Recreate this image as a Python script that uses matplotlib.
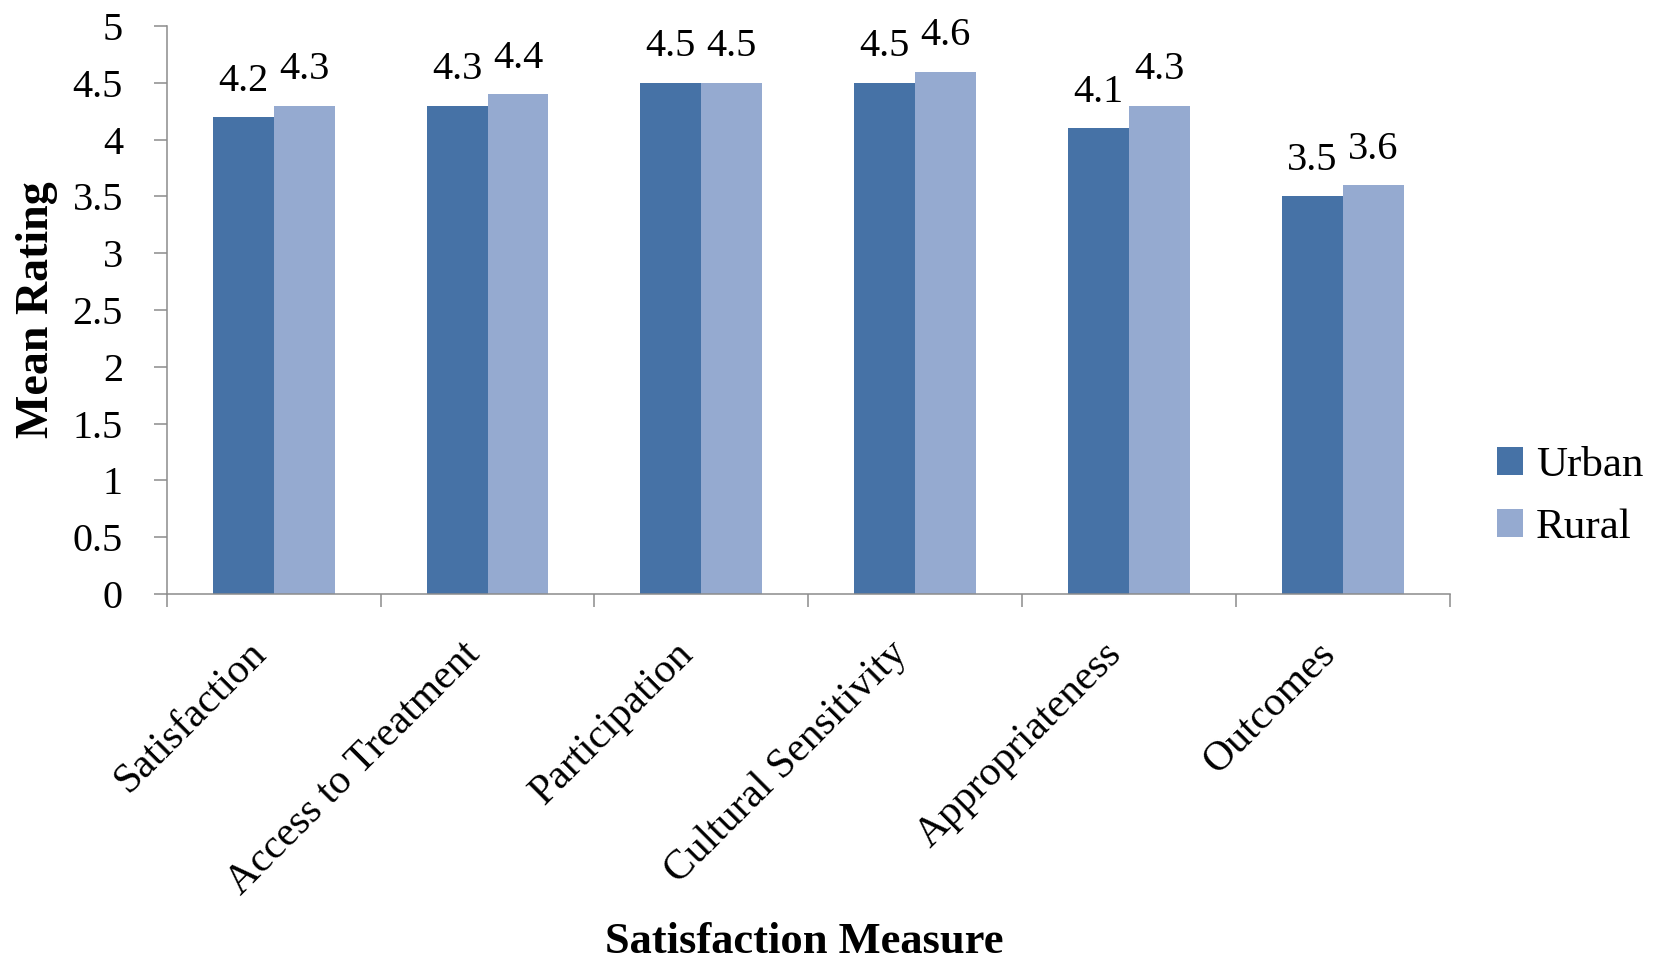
import matplotlib
matplotlib.use("Agg")
import matplotlib.pyplot as plt
import numpy as np

plt.rcParams['font.family'] = ['Liberation Serif', 'DejaVu Serif']

measures = ["Satisfaction", "Access to Treatment", "Participation",
            "Cultural Sensitivity", "Appropriateness", "Outcomes"]
urban = [4.2, 4.3, 4.5, 4.5, 4.1, 3.5]
rural = [4.3, 4.4, 4.5, 4.6, 4.3, 3.6]
yticks = [0, 0.5, 1, 1.5, 2, 2.5, 3, 3.5, 4, 4.5, 5]

urban_color = '#4672A6'
rural_color = '#95AAD0'
axis_grey = '#8C8C8C'

fig = plt.figure(figsize=(16.59, 9.66), dpi=100)
ax = fig.add_axes([0.1005, 0.385, 0.7735, 0.588])

x = np.arange(len(measures))
w = 0.285
b1 = ax.bar(x - w / 2, urban, w, color=urban_color, label='Urban')
b2 = ax.bar(x + w / 2, rural, w, color=rural_color, label='Rural')

# value labels on top of each bar
for bars, vals in ((b1, urban), (b2, rural)):
    for rect, v in zip(bars, vals):
        ax.annotate(f"{v:g}", (rect.get_x() + rect.get_width() / 2, v),
                    xytext=(0, 19), textcoords='offset points',
                    ha='center', va='baseline', fontsize=29)

ax.set_xlim(-0.5, len(measures) - 0.5)
ax.set_ylim(0, 5)
ax.set_yticks(yticks)
ax.set_yticklabels([f"{t:g}" for t in yticks], fontsize=29)

# ticks between the groups, labels under the group centres
ax.set_xticks(np.arange(-0.5, len(measures)), labels=[''] * (len(measures) + 1))
ax.set_xticks(x, minor=True)
ax.set_xticklabels(measures, minor=True, rotation=45, ha='right', va='top',
                   fontsize=30)
ax.tick_params(axis='x', which='minor', length=0, pad=29)
ax.tick_params(axis='both', which='major', length=9.5, width=1.1,
               color=axis_grey)
ax.tick_params(axis='y', pad=22)

for side in ('top', 'right'):
    ax.spines[side].set_visible(False)
for side in ('left', 'bottom'):
    ax.spines[side].set_color(axis_grey)
    ax.spines[side].set_linewidth(1.1)

ax.set_ylabel("Mean Rating", fontsize=33, fontweight='bold', va='center')
ax.yaxis.set_label_coords(-0.101, 0.5)
ax.set_xlabel("Satisfaction Measure", fontsize=32, fontweight='bold',
              va='center')
ax.xaxis.set_label_coords(0.497, -0.613)

ax.legend(loc='center left', bbox_to_anchor=(1.0366, 0.171), frameon=False,
          fontsize=31, borderpad=0, borderaxespad=0, handlelength=0.6,
          handleheight=0.6, handletextpad=0.3, labelspacing=0.55)

fig.savefig("out.png", dpi=100)
